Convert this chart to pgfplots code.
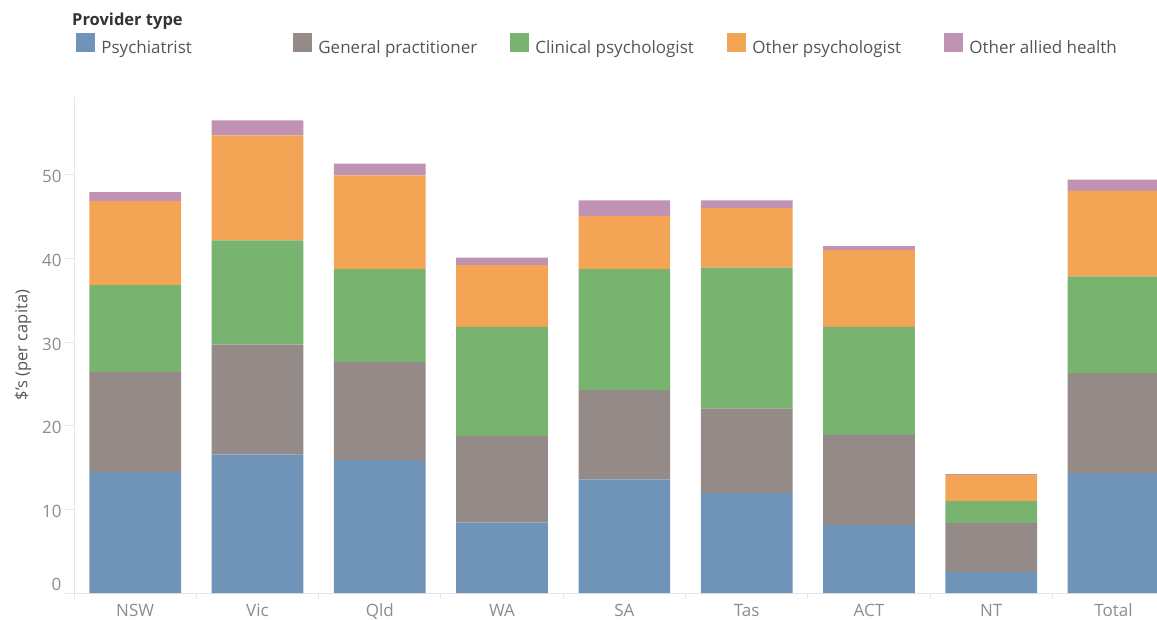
\documentclass[border=0pt]{standalone}
\usepackage{fontspec}
\setmainfont{Open Sans}
\usepackage{pgfplots}
\usepackage{pgfplotstable}
\pgfplotsset{compat=1.18}
\usetikzlibrary{calc}

\definecolor{cP}{HTML}{6F94B8}
\definecolor{cG}{HTML}{948B88}
\definecolor{cC}{HTML}{79B370}
\definecolor{cO}{HTML}{F4A455}
\definecolor{cA}{HTML}{C092B3}
\definecolor{axisgray}{HTML}{E6E6E6}
\definecolor{ticktext}{HTML}{8C8C8C}
\definecolor{labeltext}{HTML}{555555}

\pgfplotstableread{
x P G C O A
0 14.49 11.95 10.36 10.07 1.05
1 16.57 13.14 12.46 12.55 1.79
2 15.90 11.74 11.07 11.23 1.40
3 8.45 10.34 13.03 7.37 0.92
4 13.58 10.67 14.46 6.37 1.87
5 11.98 10.09 16.84 7.12 0.92
6 8.12 10.78 12.92 9.16 0.48
7 2.50 5.86 2.63 3.11 0.12
8 14.34 11.94 11.59 10.20 1.35
}\datatable

\pgfplotsset{sqlegend/.style={legend image code/.code={\fill[##1,draw=none] (0pt,-4pt) rectangle (19pt,15pt);}}}

\begin{document}
\begin{tikzpicture}
\begin{axis}[
  name=ax,
  scale only axis, width=1083pt, height=496pt,
  ybar stacked, bar width=0.75,
  xmin=-0.5, xmax=8.355, ymin=0, ymax=59.3,
  xtick={0,...,8}, xticklabels={NSW,Vic,Qld,WA,SA,Tas,ACT,NT,Total},
  minor xtick={-0.5,0.5,...,7.5},
  major x tick style={draw=none},
  xticklabel style={yshift=1.5pt},
  ytick={10,20,30,40,50},
  extra y ticks={0},
  extra y tick style={yticklabel style={yshift=11pt}},
  yticklabel style={yshift=-2pt},
  tick align=outside,
  major tick length=9pt, minor tick length=6pt,
  axis lines*=left,
  axis line style={axisgray, line width=1pt},
  tick style={axisgray, line width=1pt},
  ticklabel style={font=\fontsize{17}{20}\selectfont, text=ticktext},
  /pgf/number format/assume math mode=true,
  ylabel={\$’s (per capita)},
  every axis y label/.style={at={(rel axis cs:0,0.5)}, xshift=-51pt, rotate=90, anchor=center, font=\fontsize{16.5}{19}\selectfont, text=labeltext},
  legend columns=5,
  legend style={at={(rel axis cs:0.002,1.107)}, anchor=west, draw=none, fill=none, inner sep=0pt,
    font=\fontsize{17}{20}\selectfont, text=labeltext, nodes={inner sep=0pt},
    /tikz/every odd column/.append style={column sep=6pt}},
  every axis plot post/.append style={sqlegend},
]
\addplot[fill=cP, draw=none] table[x=x,y=P] {\datatable};
\addlegendentry{\makebox[192pt][l]{Psychiatrist}}
\addplot[fill=cG, draw=none] table[x=x,y=G] {\datatable};
\addlegendentry{\makebox[192pt][l]{General practitioner}}
\addplot[fill=cC, draw=none] table[x=x,y=C] {\datatable};
\addlegendentry{\makebox[192pt][l]{Clinical psychologist}}
\addplot[fill=cO, draw=none] table[x=x,y=O] {\datatable};
\addlegendentry{\makebox[192pt][l]{Other psychologist}}
\addplot[fill=cA, draw=none] table[x=x,y=A] {\datatable};
\addlegendentry{Other allied health}
\end{axis}
\node[anchor=west, font=\bfseries\fontsize{16.5}{19}\selectfont, text=black!80, inner sep=0pt] at ($(ax.north west)+(-2pt,76pt)$) {Provider type};
\pgfresetboundingbox
\path[use as bounding box] ($(ax.south west)+(-74pt,-26pt)$) rectangle ($(ax.north east)+(0pt,97pt)$);
\end{tikzpicture}
\end{document}
